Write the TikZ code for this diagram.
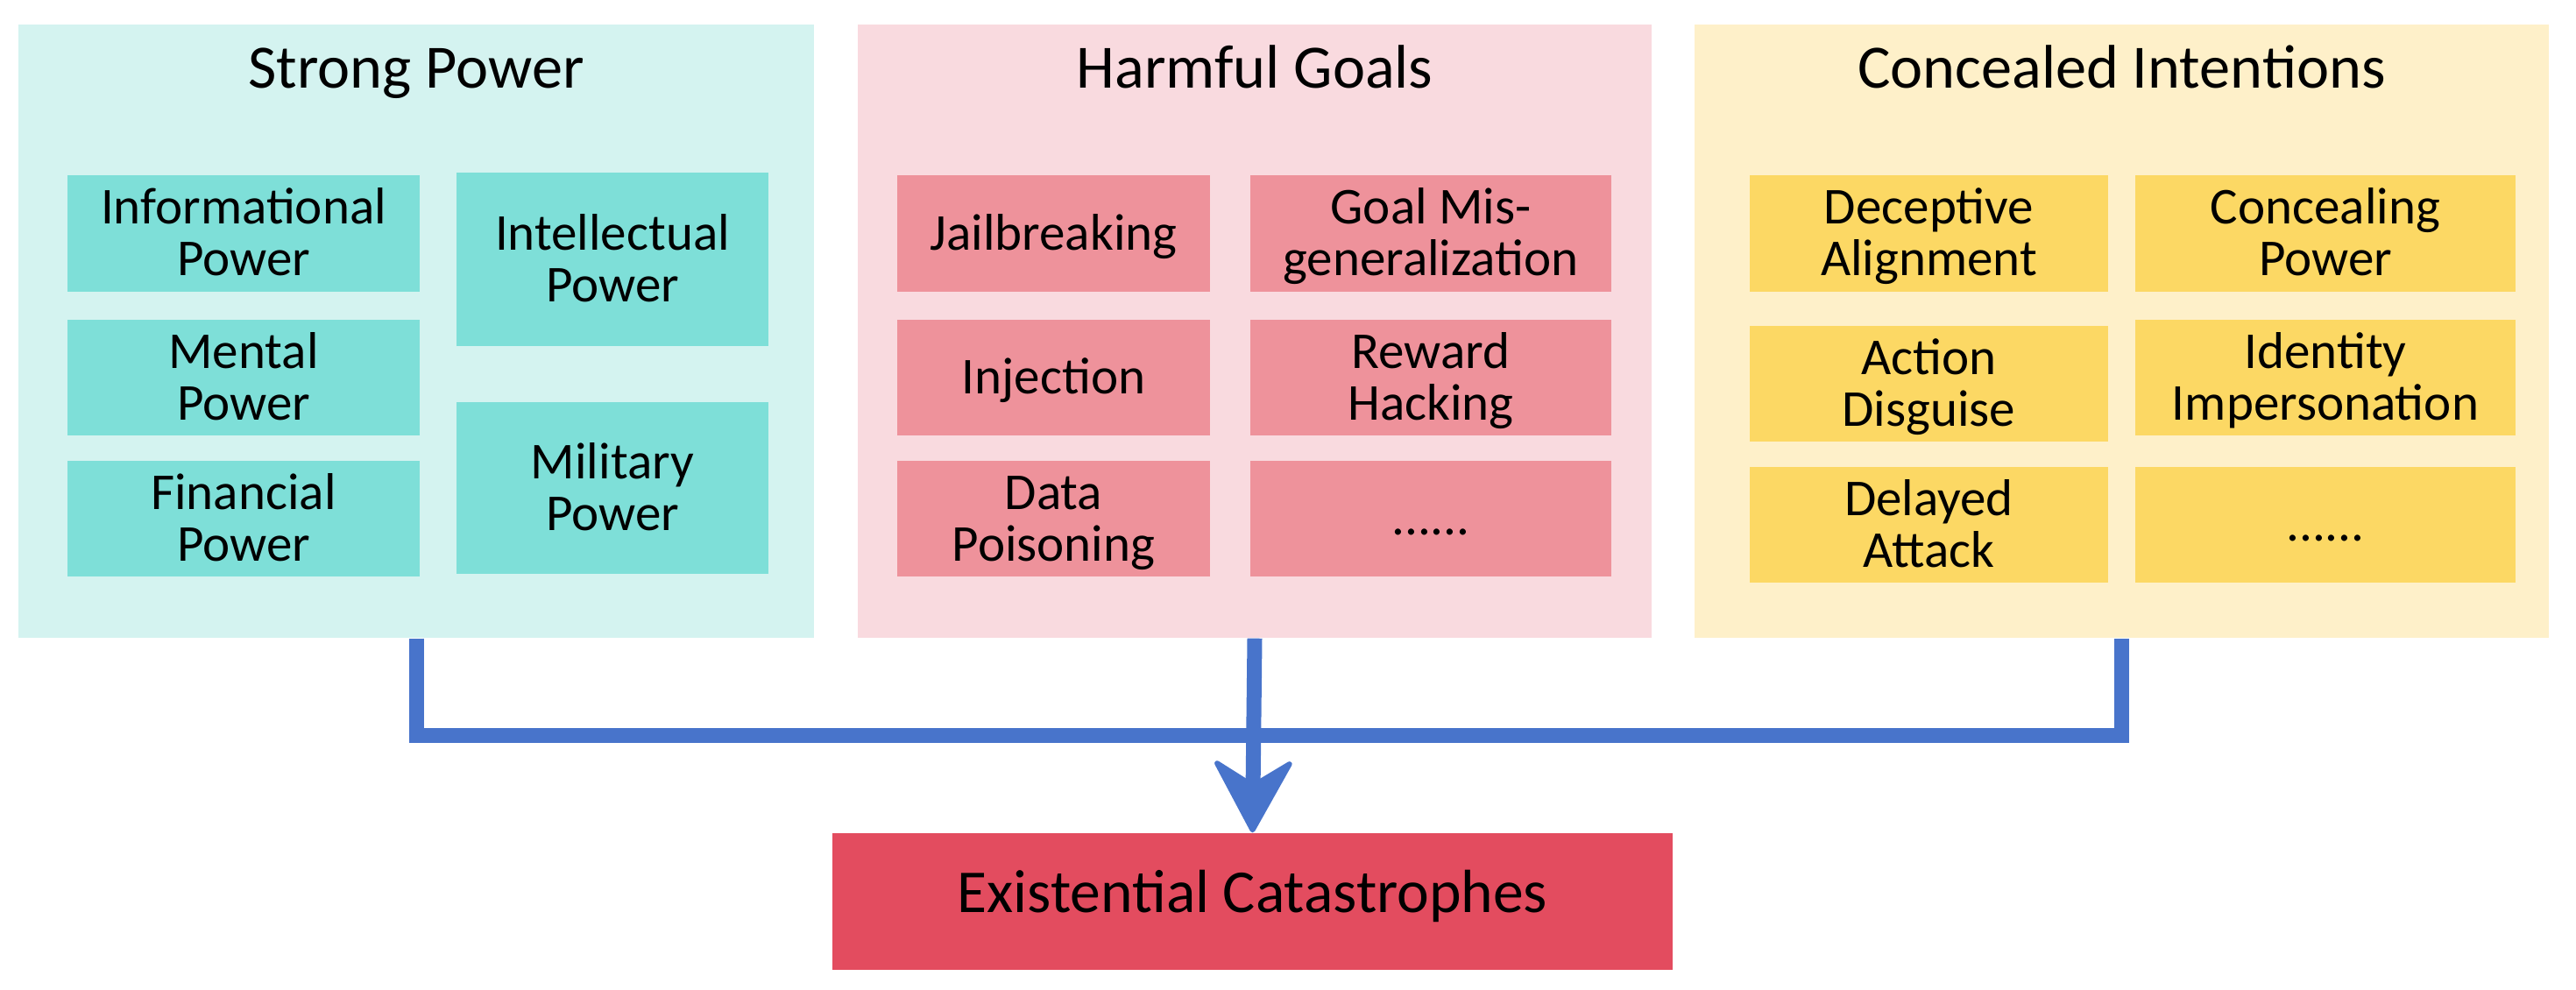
\documentclass[tikz,border=0pt]{standalone}
\usepackage{fontspec}
\setmainfont{Carlito}
\usetikzlibrary{arrows.meta}
\definecolor{powerbg}{HTML}{D4F3F0}
\definecolor{powerbox}{HTML}{7EDFD8}
\definecolor{goalbg}{HTML}{F9DADF}
\definecolor{goalbox}{HTML}{EE929B}
\definecolor{hidebg}{HTML}{FEF0C9}
\definecolor{hidebox}{HTML}{FCD864}
\definecolor{linkblue}{HTML}{4874CB}
\definecolor{doomred}{HTML}{E34C5F}
% fixed top and bottom of every box text
\newcommand{\boxtext}[1]{\rule{0pt}{15pt}#1\rule[-4.2pt]{0pt}{4.2pt}}
\begin{document}
\begin{tikzpicture}[
	panel/.style={inner sep=0pt, minimum height=7cm},
	item/.style={inner sep=0pt, align=center, font=\fontsize{16.8}{16.8}\selectfont},
	head/.style={anchor=base, font=\fontsize{20}{24}\selectfont},
	bus/.style={line width=0.17cm, color=linkblue}]
	\useasboundingbox (0,0) rectangle (29.4,-11.3);
	% the three panels
	\node[panel, fill=powerbg, minimum width=9.08cm] (sp) at (4.75,-3.78) {};
	\node[panel, fill=goalbg, minimum width=9.06cm] (hg) at (14.32,-3.78) {};
	\node[panel, fill=hidebg, minimum width=9.75cm] (ci) at (24.215,-3.78) {};
	\node[head] (sptitle) at (4.75,-1.01) {Strong Power};
	\node[head] (hgtitle) at (14.32,-1.01) {Harmful Goals};
	\node[head] (cititle) at (24.215,-1.01) {Concealed Intentions};
	% strong power
	\node[item, fill=powerbox, minimum width=4.02cm, minimum height=1.33cm] (info) at (2.78,-2.665) {\boxtext{Informational\\Power}};
	\node[item, fill=powerbox, minimum width=4.02cm, minimum height=1.32cm] (mental) at (2.78,-4.31) {\boxtext{Mental\\Power}};
	\node[item, fill=powerbox, minimum width=4.02cm, minimum height=1.32cm] (finance) at (2.78,-5.92) {\boxtext{Financial\\Power}};
	\node[item, fill=powerbox, minimum width=3.56cm, minimum height=1.98cm] (intellect) at (6.99,-2.96) {\boxtext{Intellectual\\Power}};
	\node[item, fill=powerbox, minimum width=3.56cm, minimum height=1.96cm] (military) at (6.99,-5.57) {\boxtext{Military\\Power}};
	% harmful goals
	\node[item, fill=goalbox, minimum width=3.57cm, minimum height=1.33cm] (jail) at (12.025,-2.665) {\boxtext{Jailbreaking}};
	\node[item, fill=goalbox, minimum width=3.57cm, minimum height=1.32cm] (inject) at (12.025,-4.31) {\boxtext{Injection}};
	\node[item, fill=goalbox, minimum width=3.57cm, minimum height=1.32cm] (poison) at (12.025,-5.92) {\boxtext{Data\\Poisoning}};
	\node[item, fill=goalbox, minimum width=4.12cm, minimum height=1.33cm] (misgen) at (16.33,-2.665) {\boxtext{Goal Mis-\\generalization}};
	\node[item, fill=goalbox, minimum width=4.12cm, minimum height=1.32cm] (hack) at (16.33,-4.31) {\boxtext{Reward\\Hacking}};
	\node[item, fill=goalbox, minimum width=4.12cm, minimum height=1.32cm] (goalmore) at (16.33,-5.92) {\boxtext{......}};
	% concealed intentions
	\node[item, fill=hidebox, minimum width=4.09cm, minimum height=1.33cm] (deceive) at (22.015,-2.665) {\boxtext{Deceptive\\Alignment}};
	\node[item, fill=hidebox, minimum width=4.09cm, minimum height=1.32cm] (disguise) at (22.015,-4.38) {\boxtext{Action\\Disguise}};
	\node[item, fill=hidebox, minimum width=4.09cm, minimum height=1.32cm] (delay) at (22.015,-5.99) {\boxtext{Delayed\\Attack}};
	\node[item, fill=hidebox, minimum width=4.34cm, minimum height=1.33cm] (conceal) at (26.54,-2.665) {\boxtext{Concealing\\Power}};
	\node[item, fill=hidebox, minimum width=4.34cm, minimum height=1.32cm] (identity) at (26.54,-4.31) {\boxtext{Identity\\Impersonation}};
	\node[item, fill=hidebox, minimum width=4.34cm, minimum height=1.32cm] (hidemore) at (26.54,-5.99) {\boxtext{......}};
	% outcome
	\node[fill=doomred, inner sep=0pt, minimum width=9.59cm, minimum height=1.56cm, text height=0.716em, text depth=0pt,
		font=\fontsize{19.8}{23}\selectfont] (ec) at (14.295,-10.29) {Existential Catastrophes};
	\draw[bus] (sp.south) -- ++(0,-1.11) -| (ci.south);
	\draw[bus, -{Stealth[length=0.9cm, width=0.98cm, inset=0.3cm, round, line width=0.06cm]}] (hg.south) -- (ec.north);
\end{tikzpicture}
\end{document}
